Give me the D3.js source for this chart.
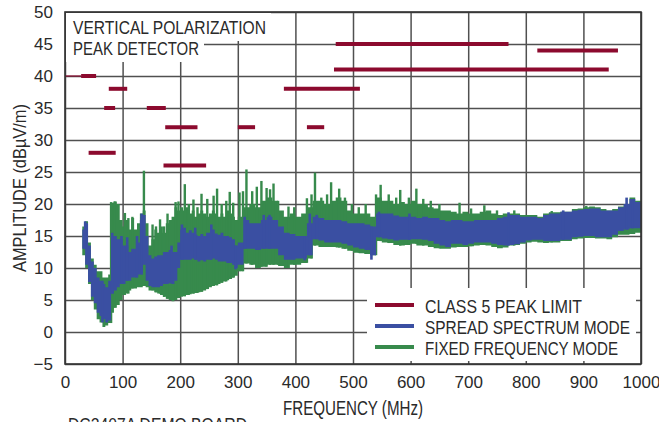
<!DOCTYPE html>
<html><head><meta charset="utf-8">
<script src="https://cdn.jsdelivr.net/npm/d3@7"></script>
<style>body{margin:0;background:#fff}svg{display:block}</style>
</head><body><svg id="c" width="659" height="422"></svg>
<script>
const xTicks=[0,100,200,300,400,500,600,700,800,900,1000];
const yTicks=[-5,0,5,10,15,20,25,30,35,40,45,50];

const freqs=[30,35,40,45,50,55,60,65,70,75,80,85,90,95,100,105,110,115,120,125,130,135,140,145,150,155,160,165,170,175,180,185,190,195,200,205,210,215,220,225,230,235,240,245,250,255,260,265,270,275,280,285,290,295,300,
310,320,330,340,350,360,370,380,390,400,410,420,430,440,450,460,470,480,490,500,510,520,530,540,550,560,570,580,590,600,610,620,630,640,650,660,670,680,690,700,710,720,730,740,750,760,770,780,790,800,810,820,830,840,850,860,870,880,890,900,910,920,930,940,950,960,970,980,990,1000];

const greenHi=[16.5,17.3,14.0,11.5,10.5,9.5,9.5,8.5,8.5,9.0,20.2,20.4,20.0,17.5,16.5,17.5,16.0,17.8,16.0,17.0,18.5,19.0,17.0,13.5,14.5,16.0,15.5,16.5,15.5,17.0,17.5,18.0,19.5,19.0,19.5,19.0,19.5,18.5,19.0,18.0,18.5,19.0,18.5,18.0,18.5,19.0,18.5,18.0,18.5,18.0,19.0,18.5,18.0,17.5,18.0,
19.5,20.0,19.5,20.5,21.0,20.5,19.0,18.0,18.5,18.0,18.5,19.5,20.5,20.5,20.0,20.5,21.0,20.5,19.0,18.5,18.5,18.5,18.0,21.0,20.5,20.5,20.0,20.3,20.0,20.5,20.0,20.0,19.5,19.3,19.0,19.0,18.8,18.5,18.8,18.5,18.5,18.8,19.0,18.5,18.3,18.5,18.5,18.5,18.3,18.3,18.3,18.0,18.5,18.7,18.7,18.8,18.8,19.2,19.3,19.5,19.6,19.5,19.2,19.0,19.2,19.6,20.0,21.0,20.5,20.5];

const greenLo=[12.0,10.0,7.5,5.0,3.5,2.0,1.5,0.8,1.0,1.4,3.0,3.8,4.2,5.0,5.8,6.0,6.5,6.8,6.8,7.0,7.0,7.2,7.0,6.5,6.5,6.2,6.0,5.8,5.5,5.2,5.0,4.8,5.0,5.3,5.5,5.6,5.8,5.9,6.0,6.1,6.2,6.3,6.5,6.7,7.0,7.2,7.3,7.5,7.7,7.9,8.1,8.3,8.5,8.8,9.5,
10.7,10.5,10.0,10.2,10.5,10.5,10.3,10.0,10.5,10.5,10.8,11.5,13.5,13.3,13.3,13.3,13.2,13.0,12.7,12.4,12.3,12.2,12.0,14.2,14.0,13.9,13.6,13.5,13.6,13.8,13.5,13.5,13.3,13.1,13.0,13.0,13.2,13.3,13.3,13.4,13.5,13.6,13.5,13.3,13.1,13.2,13.5,13.6,13.8,14.0,14.1,14.0,13.9,14.0,14.0,14.2,14.2,14.5,14.6,14.7,14.7,14.6,14.6,14.5,14.8,15.2,15.2,15.3,15.5,15.6];

const blueHi=[16.0,17.0,13.5,11.0,10.0,8.5,8.0,7.5,7.0,8.0,15.0,15.0,14.5,14.5,13.5,13.5,12.5,13.0,13.0,14.0,17.5,18.3,15.0,12.0,11.5,11.8,12.0,12.0,12.5,12.5,12.8,12.5,12.5,14.0,16.0,16.3,15.5,15.9,15.5,15.2,15.0,15.3,15.0,15.5,15.5,16.0,15.4,15.2,15.5,15.0,15.0,14.8,14.5,13.5,14.0,
17.5,17.0,17.0,17.5,18.0,17.5,16.5,15.5,15.3,15.0,15.0,17.0,18.0,17.8,17.5,17.5,17.5,17.3,17.0,17.0,17.0,16.8,16.5,18.5,18.5,18.5,18.2,18.0,18.0,18.0,17.8,18.0,17.8,17.8,17.5,17.3,17.5,17.5,17.3,17.3,17.5,17.5,17.5,17.5,17.8,18.0,18.3,18.3,18.0,18.0,18.0,17.8,18.3,18.5,18.5,18.8,18.8,19.0,19.1,19.2,19.3,19.3,19.0,19.0,19.0,19.5,20.0,20.8,20.3,20.3];

const blueLo=[13.0,10.5,7.8,5.5,4.5,3.0,2.5,2.0,1.5,1.8,6.0,6.5,7.0,7.5,7.5,8.0,8.0,8.5,8.5,9.0,9.0,10.5,8.0,7.2,7.0,7.0,7.0,7.2,7.5,7.5,7.6,7.5,8.0,10.0,11.3,11.3,11.3,11.3,11.5,11.3,11.0,11.2,11.0,11.3,11.3,11.5,11.3,11.0,11.0,11.0,10.8,10.8,10.5,10.0,10.5,
13.0,13.0,12.8,13.0,13.0,13.0,12.0,11.3,11.3,11.5,11.5,12.0,14.5,14.3,14.0,14.0,14.0,13.8,13.5,13.2,13.0,12.8,12.0,14.8,14.6,14.5,14.3,14.4,14.4,14.5,14.5,14.4,14.2,13.8,13.5,13.3,13.8,13.8,13.6,13.8,14.0,14.0,14.0,13.8,13.6,13.5,13.6,13.7,14.0,14.3,14.4,14.4,14.2,14.2,14.2,14.4,14.4,14.8,14.9,15.0,15.0,14.8,14.8,14.8,15.2,15.8,16.0,16.2,16.2,16.3];

// isolated narrow peaks of the fixed-frequency trace
const spikeFreqs=[80,86,104,110,117,137,152,158,165,172,178,192,197,208,215,223,230,237,247,258,264,272,280,286,292,303,309,315,325,333,341,350,356,362,370,388,398,420,428,434,445,455,462,476,486,498,510,522,540,548,562,575,582,597,610,622,635,650,685,705,728,750,780,845,905];
const spikeTops=[20.3,20.4,18.6,17.8,18.0,25.2,16.8,16.5,17.6,16.5,18.5,20.3,20.4,23.1,20.0,20.7,19.5,21.6,20.8,21.3,22.4,20.0,20.5,21.9,20.2,21.8,22.0,25.4,22.0,22.7,23.6,22.5,22.3,23.2,20.5,19.6,19.5,20.9,21.5,24.9,21.0,21.5,23.4,22.4,21.0,20.0,19.5,20.0,21.5,23.0,21.5,21.0,22.2,21.0,22.4,20.8,20.5,20.0,20.2,19.3,19.8,19.0,19.0,18.9,19.7];
// narrow peaks / dips of the spread-spectrum trace
const blueSpikeFreqs=[35,82,98,108,125,133,185,203,226,254,312,345,355,425,437,545,598,770,865,975,985];
const blueSpikeTops=[17.3,15.5,15.0,14.8,15.0,18.5,13.5,16.8,16.3,16.8,18.0,18.3,18.3,18.5,18.3,18.8,18.5,18.7,19.0,21.0,20.6];
const blueDipFreqs=[65,296,416,532];
const blueDipBottoms=[1.5,9.8,11.2,11.3];

const limitStart=[28,41,68,76,142,171,174,300,380,420,467,470,820];
const limitEnd=[54,88,87,108,175,245,230,330,512,450,944,770,960];
const limitLevel=[40,28,35,38,35,26,32,32,38,32,41,45,44];

const legendLabels=["CLASS 5 PEAK LIMIT","SPREAD SPECTRUM MODE","FIXED FREQUENCY MODE"];
const titleLines=["VERTICAL POLARIZATION","PEAK DETECTOR"];

const RED="#8c0a2e", BLUE="#3a4fa2", GREEN="#378a4c", GRID="#505050", TXT="#2a2a2a";
const FONT="'Liberation Sans Narrow','Arial Narrow','Liberation Sans',Arial,sans-serif";
const svg=d3.select("#c");
const x=d3.scaleLinear().domain([0,1000]).range([65,641]);
const y=d3.scaleLinear().domain([-5,50]).range([364,12]);

// grid
svg.append("g").attr("transform","translate(0,364)")
  .call(d3.axisBottom(x).tickValues(xTicks).tickSize(-352).tickFormat(""))
  .call(g=>{g.select(".domain").remove();g.selectAll("line").attr("stroke",GRID).attr("stroke-width",1.5);});
svg.append("g").attr("transform","translate(65,0)")
  .call(d3.axisLeft(y).tickValues(yTicks).tickSize(-576).tickFormat(""))
  .call(g=>{g.select(".domain").remove();g.selectAll("line").attr("stroke",GRID).attr("stroke-width",1.5);});

// white masks for title and legend
svg.append("rect").attr("x",66).attr("y",13).attr("width",205).attr("height",28).attr("fill","#fff");
svg.append("rect").attr("x",66).attr("y",41).attr("width",138).attr("height",21).attr("fill","#fff");
svg.append("rect").attr("x",367).attr("y",288).attr("width",269).attr("height",73).attr("fill","#fff");

// traces
const idx=d3.range(freqs.length);
const bis=d3.bisector(d=>d).left;
const near=f=>Math.min(Math.max(bis(freqs,f)-1,0),freqs.length-1);
const gArea=d3.area().curve(d3.curveStepAfter).x(i=>x(freqs[i])).y0(i=>y(greenLo[i])).y1(i=>y(greenHi[i]));
const bArea=d3.area().curve(d3.curveStepAfter).x(i=>x(freqs[i])).y0(i=>y(blueLo[i])).y1(i=>y(blueHi[i]));
svg.append("path").datum(idx).attr("d",gArea).attr("fill",GREEN);
svg.append("g").selectAll("rect").data(spikeFreqs).join("rect")
  .attr("x",f=>x(f)-1.2).attr("width",2.4)
  .attr("y",(f,i)=>y(spikeTops[i]))
  .attr("height",(f,i)=>Math.max(0,y(greenLo[near(f)])-y(spikeTops[i])))
  .attr("fill",GREEN);
svg.append("path").datum(idx).attr("d",bArea).attr("fill",BLUE);
svg.append("g").selectAll("rect").data(blueSpikeFreqs).join("rect")
  .attr("x",f=>x(f)-1.3).attr("width",2.6)
  .attr("y",(f,i)=>y(blueSpikeTops[i]))
  .attr("height",(f,i)=>Math.max(0,y(blueLo[near(f)])-y(blueSpikeTops[i])))
  .attr("fill",BLUE);
svg.append("g").selectAll("rect").data(blueDipFreqs).join("rect")
  .attr("x",f=>x(f)-1.3).attr("width",2.6)
  .attr("y",f=>y(blueHi[near(f)]))
  .attr("height",(f,i)=>Math.max(0,y(blueDipBottoms[i])-y(blueHi[near(f)])))
  .attr("fill",BLUE);

// limits
svg.append("line").attr("x1",x(0)).attr("x2",x(limitStart[0])).attr("y1",y(limitLevel[0])).attr("y2",y(limitLevel[0]))
  .attr("stroke",RED).attr("stroke-width",1.2);
svg.append("g").selectAll("line").data(limitLevel).join("line")
  .attr("x1",(v,i)=>x(limitStart[i])).attr("x2",(v,i)=>x(limitEnd[i]))
  .attr("y1",v=>y(v)).attr("y2",v=>y(v))
  .attr("stroke",RED).attr("stroke-width",4);

// frame
svg.append("rect").attr("x",65).attr("y",12).attr("width",576).attr("height",352)
  .attr("fill","none").attr("stroke","#333").attr("stroke-width",1.6);

// tick labels
svg.append("g").attr("transform","translate(0,364)")
  .call(d3.axisBottom(x).tickValues(xTicks).tickSize(0).tickPadding(12).tickFormat(d3.format("d")))
  .call(g=>{g.select(".domain").remove();g.selectAll("text").attr("font-family","'Liberation Sans',Arial,sans-serif").attr("font-size",17).attr("fill",TXT);});
svg.append("g").attr("transform","translate(65,0)")
  .call(d3.axisLeft(y).tickValues(yTicks).tickSize(0).tickPadding(12))
  .call(g=>{g.select(".domain").remove();g.selectAll("text").attr("font-family","'Liberation Sans',Arial,sans-serif").attr("font-size",17).attr("fill",TXT);});

function txt(s,x0,y0,size,len,anchor){
  return svg.append("text").attr("x",x0).attr("y",y0).attr("font-family",FONT).attr("font-size",size)
   .attr("fill",TXT).attr("text-anchor",anchor||"start").attr("textLength",len).attr("lengthAdjust","spacingAndGlyphs").text(s);
}
txt(titleLines[0],73,34,19,193);
txt(titleLines[1],73,55,19,126);
txt("FREQUENCY (MHz)",353,415,19.5,140,"middle");
svg.append("text").attr("transform","translate(26,188) rotate(-90)").attr("font-family",FONT).attr("font-size",18.5)
  .attr("fill",TXT).attr("text-anchor","middle").attr("textLength",168).attr("lengthAdjust","spacingAndGlyphs").text("AMPLITUDE (dBµV/m)");
txt("DC2407A DEMO BOARD",68,431,19,179);

// legend
const legColors=[RED,BLUE,GREEN];
const legY=[305,326,347];
const legLen=[157,205,193];
legendLabels.forEach((s,i)=>{
  svg.append("line").attr("x1",375).attr("x2",414).attr("y1",legY[i]).attr("y2",legY[i]).attr("stroke",legColors[i]).attr("stroke-width",4);
  txt(s,425,legY[i]+7.5,19,legLen[i]);
});
</script></body></html>
